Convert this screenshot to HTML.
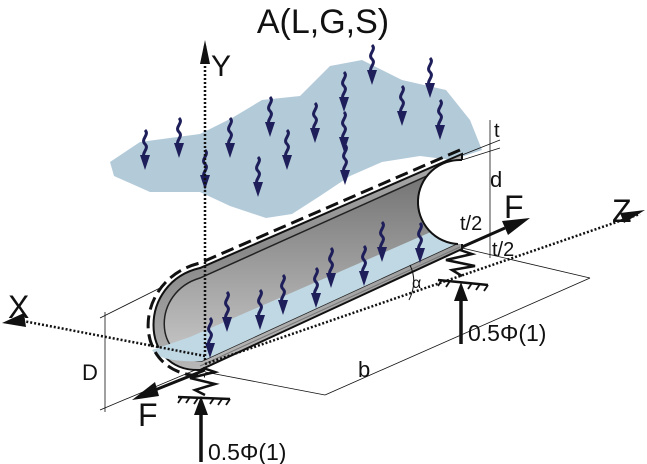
<!DOCTYPE html>
<html><head><meta charset="utf-8"><style>
html,body{margin:0;padding:0;background:#fff}
svg{display:block}
text{font-family:"Liberation Sans",sans-serif;fill:#111}
</style></head><body>
<svg width="647" height="464" viewBox="0 0 647 464" xmlns="http://www.w3.org/2000/svg">
<defs>
<linearGradient id="tube" x1="0" y1="0" x2="0.3" y2="1">
<stop offset="0" stop-color="#d8d8d8"/><stop offset="0.5" stop-color="#8a8a8a"/><stop offset="1" stop-color="#bdbdbd"/>
</linearGradient>
<linearGradient id="wall" x1="0" y1="0" x2="0" y2="1">
<stop offset="0" stop-color="#6e6e6e"/><stop offset="1" stop-color="#c8c8c8"/>
</linearGradient>
<g id="w"><path d="M0,0 c5,5 -5,9 0,14 c5,5 -5,9 0,14" fill="none" stroke="#1e1e5a" stroke-width="3"/><path d="M-5,25 L5,25 L0,40 Z" fill="#1e1e5a"/></g>
</defs>

<text x="323" y="33" font-size="34" text-anchor="middle">A(L,G,S)</text>

<path d="M110,162 L140,142 L200,134 L232,118 L262,100 L300,96 L330,66 L362,60 L402,80 L446,90 L470,120 L482,150 L452,160 L420,156 L382,162 L350,176 L320,196 L292,214 L266,218 L230,206 L200,192 L150,192 L114,176 Z" fill="#b3cad9"/>
<use href="#w" x="145" y="130"/><use href="#w" x="179" y="118"/><use href="#w" x="230" y="118"/>
<use href="#w" x="270" y="97"/><use href="#w" x="287" y="130"/><use href="#w" x="315" y="103"/>
<use href="#w" x="258" y="157"/><use href="#w" x="344" y="72"/><use href="#w" x="344" y="112"/>
<use href="#w" x="372" y="45"/><use href="#w" x="345" y="145"/><use href="#w" x="402" y="86"/>
<use href="#w" x="430" y="58"/><use href="#w" x="440" y="100"/><use href="#w" x="205" y="150"/>

<g stroke="#111" stroke-width="0.8" fill="none">
<line x1="105" y1="312" x2="105" y2="412"/>
<line x1="100" y1="318" x2="160" y2="288"/>
<line x1="100" y1="410" x2="200" y2="368"/>
<line x1="205" y1="372" x2="325" y2="395"/>
<line x1="325" y1="395" x2="590" y2="278"/>
<line x1="462" y1="248" x2="590" y2="278"/>
<line x1="490" y1="120" x2="490" y2="258"/>
<line x1="462" y1="155" x2="500" y2="140"/>
<line x1="462" y1="160" x2="500" y2="148"/>
</g>

<path d="M462,154 L200,268 C138,282 138,372 200,370 L462,249 Z" fill="url(#tube)" stroke="#111" stroke-width="2"/>
<path d="M458,162 L200,278 C152,292 152,360 202,361 L456,244 Z" fill="url(#wall)" stroke="#222" stroke-width="1.5"/>
<path d="M152,350 C158,360 180,362 202,361 L456,244 L440,228 L190,337 Z" fill="#c0d8e4"/>
<path d="M462,160 A42,42 0 0 0 458,244 L470,244 L470,160 Z" fill="#fff" stroke="none"/>
<path d="M462,160 A42,42 0 0 0 458,244" fill="none" stroke="#111" stroke-width="2"/>
<line x1="200" y1="366" x2="460" y2="247" stroke="#777" stroke-width="1"/>
<path d="M460,150 L200,263 C130,280 130,378 205,376" fill="none" stroke="#111" stroke-width="3" stroke-dasharray="13,6"/>

<text x="82" y="380" font-size="22">D</text>
<text x="358" y="377" font-size="22">b</text>
<text x="494" y="137" font-size="20">t</text>
<text x="490" y="187" font-size="22">d</text>
<text x="460" y="230" font-size="20">t/2</text>
<text x="492" y="256" font-size="20">t/2</text>

<use href="#w" x="210" y="318"/><use href="#w" x="227" y="292"/><use href="#w" x="260" y="290"/>
<use href="#w" x="283" y="275"/><use href="#w" x="316" y="268"/><use href="#w" x="331" y="248"/>
<use href="#w" x="364" y="246"/><use href="#w" x="382" y="222"/><use href="#w" x="420" y="223"/>

<line x1="205" y1="360" x2="205" y2="44" stroke="#111" stroke-width="2.5" stroke-dasharray="2,2"/>
<path d="M200,64 L205,40 L210,64 Z" fill="#111"/>
<text x="211" y="76" font-size="30">Y</text>
<line x1="205" y1="356" x2="18" y2="320" stroke="#111" stroke-width="2.5" stroke-dasharray="2,2"/>
<path d="M24,313 L2,323 L26,327 Z" fill="#111"/>
<text x="8" y="318" font-size="32">X</text>
<line x1="205" y1="364" x2="640" y2="214" stroke="#111" stroke-width="2.5" stroke-dasharray="2,2"/>
<path d="M620,213 L645,210 L624,223 Z" fill="#111"/>
<text x="612" y="222" font-size="32">Z</text>
<path d="M410,265 Q418,282 409,300" fill="none" stroke="#111" stroke-width="1"/>
<text x="412" y="288" font-size="16">α</text>

<line x1="205" y1="370" x2="150" y2="392" stroke="#111" stroke-width="3"/>
<path d="M132,400 L155,382 L159,396 Z" fill="#111"/>
<text x="138" y="426" font-size="32">F</text>
<line x1="462" y1="247" x2="505" y2="228" stroke="#111" stroke-width="3"/>
<path d="M530,218 L502,221 L508,235 Z" fill="#111"/>
<text x="504" y="218" font-size="32">F</text>

<g stroke="#111" stroke-width="2.5" fill="none">
<path d="M203,368 L215,372 L190,378 L215,384 L195,390 L205,395"/>
<path d="M460,250 L472,254 L446,260 L475,266 L452,270 L462,276"/>
<line x1="178" y1="397" x2="230" y2="399"/>
<line x1="438" y1="280" x2="488" y2="285"/>
</g>
<g stroke="#111" stroke-width="1.8">
<line x1="182" y1="397" x2="178" y2="403"/><line x1="190" y1="397" x2="186" y2="403"/><line x1="198" y1="398" x2="194" y2="404"/><line x1="214" y1="398" x2="210" y2="404"/><line x1="222" y1="399" x2="218" y2="405"/><line x1="230" y1="399" x2="226" y2="405"/>
<line x1="442" y1="280" x2="438" y2="286"/><line x1="450" y1="281" x2="446" y2="287"/><line x1="472" y1="283" x2="468" y2="289"/><line x1="480" y1="284" x2="476" y2="290"/><line x1="488" y1="285" x2="484" y2="291"/>
</g>
<line x1="201" y1="462" x2="201" y2="412" stroke="#111" stroke-width="3.5"/>
<path d="M194,415 L201,396 L208,415 Z" fill="#111"/>
<text x="208" y="460" font-size="23">0.5Φ(1)</text>
<line x1="461" y1="344" x2="461" y2="298" stroke="#111" stroke-width="3.5"/>
<path d="M454,301 L461,282 L468,301 Z" fill="#111"/>
<text x="468" y="341" font-size="23">0.5Φ(1)</text>
</svg>
</body></html>
